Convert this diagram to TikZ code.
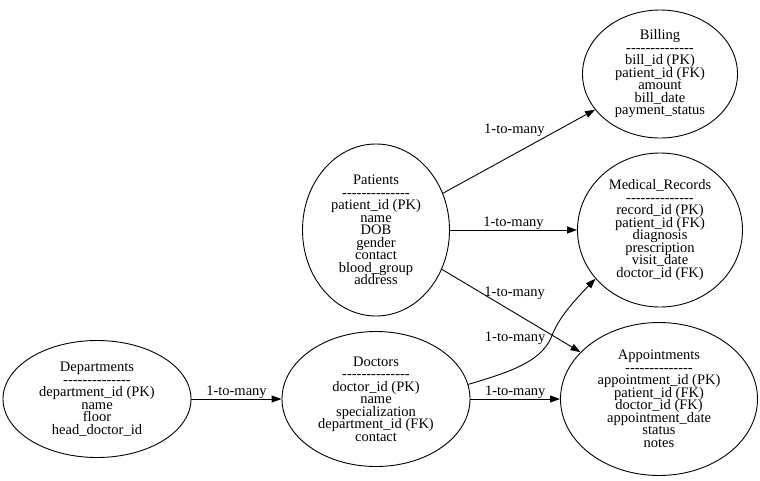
\documentclass[tikz,border=0pt]{standalone}
\usepackage{fontspec}
\setmainfont{Liberation Serif}
\usetikzlibrary{shapes.geometric,arrows.meta}

\lineskiplimit=-20pt
\newcommand{\sepline}{-{}-{}-{}-{}-{}-{}-{}-{}-{}-{}-{}-{}-{}-}

\begin{document}
\begin{tikzpicture}[
        x=1pt, y=-1pt,
        font=\fontsize{14.5}{12.5}\selectfont,
        entity/.style={ellipse, draw, line width=0.9pt, align=center, inner sep=0pt},
        rel/.style={-{Triangle[length=10pt, width=7pt]}, line width=0.9pt},
        card/.style={inner sep=0pt}
    ]
        \useasboundingbox (0,0) rectangle (760,480);

        \node[entity, minimum width=188pt, minimum height=117pt] (dep) at (97,399) {Departments\\\sepline\\department\_id (PK)\\name\\floor\\head\_doctor\_id};
        \node[entity, minimum width=188pt, minimum height=135pt] (doc) at (376,399) {Doctors\\\sepline\\doctor\_id (PK)\\name\\specialization\\department\_id (FK)\\contact};
        \node[entity, minimum width=147pt, minimum height=172pt] (pat) at (376,230) {Patients\\\sepline\\patient\_id (PK)\\name\\DOB\\gender\\contact\\blood\_group\\address};
        \node[entity, minimum width=155pt, minimum height=128pt] (bill) at (660,74) {Billing\\\sepline\\bill\_id (PK)\\patient\_id (FK)\\amount\\bill\_date\\payment\_status};
        \node[entity, minimum width=165pt, minimum height=154pt] (med) at (660,230) {Medical\_Records\\\sepline\\record\_id (PK)\\patient\_id (FK)\\diagnosis\\prescription\\visit\_date\\doctor\_id (FK)};
        \node[entity, minimum width=197pt, minimum height=153pt] (app) at (659,399) {Appointments\\\sepline\\appointment\_id (PK)\\patient\_id (FK)\\doctor\_id (FK)\\appointment\_date\\status\\notes};

        \draw[rel] (dep) -- node[card, above=0pt] {1-to-many} (doc);
        \draw[rel] (doc) -- node[card, above=0pt] {1-to-many} (app);
        \draw[rel] (pat) -- node[card, above=0pt] {1-to-many} (med);
        \draw[rel] (pat) -- node[card, pos=0.47, above=17pt] {1-to-many} (bill);
        \draw[rel] (pat) -- node[card, pos=0.525, above=13pt] {1-to-many} (app);
        \draw[rel] (doc.9) .. controls (510,372) and (540,362) .. node[card, above=20pt, xshift=-6pt] {1-to-many} (551,338)
            .. controls (558,318) and (575,300) .. (med.-143);
    \end{tikzpicture}
\end{document}
